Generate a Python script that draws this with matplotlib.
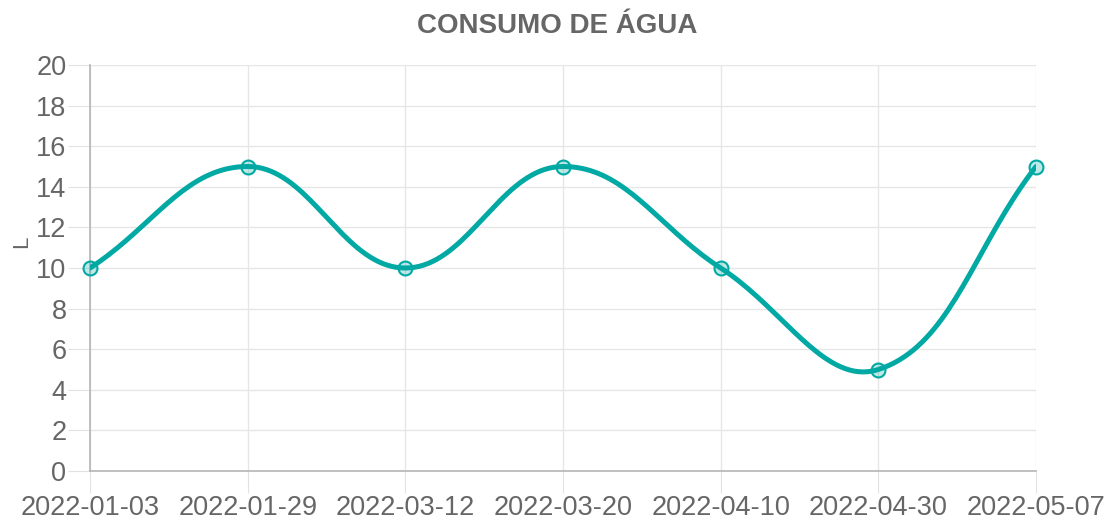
import numpy as np
import matplotlib
matplotlib.use('Agg')
import matplotlib.pyplot as plt

dates=['2022-01-03','2022-01-29','2022-03-12','2022-03-20','2022-04-10','2022-04-30','2022-05-07']
consumo=[10,15,10,15,10,5,15]
yticks=list(range(0,21,2))

color='#00a9a3'
gray='#666666'

plt.rcParams['font.family']=['Liberation Sans','DejaVu Sans']

fig=plt.figure(figsize=(11.15,5.25),dpi=100)
ax=fig.add_axes([90/1115,1-471/525,946/1115,406/525])
ax.set_xlim(0,len(dates)-1)
ax.set_ylim(0,20)

# chart.js style bezier smoothing (tension 0.4), done in pixel space
def spline(xs,ys,t=0.4):
    pts=ax.transData.transform(np.c_[xs,ys])
    n=len(pts)
    cps=[]
    for i in range(n):
        prev=pts[max(i-1,0)]
        cur=pts[i]
        nxt=pts[min(i+1,n-1)]
        d01=np.hypot(*(cur-prev))
        d12=np.hypot(*(nxt-cur))
        tot=d01+d12
        s01=d01/tot if tot else 0
        s12=d12/tot if tot else 0
        cps.append((cur-t*s01*(nxt-prev),cur+t*s12*(nxt-prev)))
    curve=[]
    u=np.linspace(0,1,40)[:,None]
    for i in range(n-1):
        p0=pts[i];p1=cps[i][1];p2=cps[i+1][0];p3=pts[i+1]
        seg=(1-u)**3*p0+3*(1-u)**2*u*p1+3*(1-u)*u**2*p2+u**3*p3
        curve.append(seg)
    curve=np.vstack(curve)
    return ax.transData.inverted().transform(curve)

x=np.arange(len(dates))
c=spline(x,consumo)
ax.plot(c[:,0],c[:,1],color=color,lw=3.6,solid_capstyle='round',zorder=3)
ax.plot(x,consumo,'o',ms=10,mfc=(0.0,0.66,0.64,0.25),mec=color,mew=1.5,clip_on=False,zorder=4)

ax.set_xticks(x)
ax.set_xticklabels(dates)
ax.set_yticks(yticks)
ax.tick_params(axis='both',length=16,color='#e2e2e2',labelsize=19.5,labelcolor=gray,pad=1)
ax.grid(True,color='#e6e6e6',lw=1)
ax.set_axisbelow(True)
for s in ['top','right']:
    ax.spines[s].set_visible(False)
for s in ['left','bottom']:
    ax.spines[s].set_color('#b5b5b5')
    ax.spines[s].set_linewidth(1.2)

fig.text(22/1115,1-242/525,'L',rotation=90,ha='center',va='center',fontsize=16,color=gray)
fig.text(0.5,1-26/525,'CONSUMO DE ÁGUA',ha='center',va='center',fontsize=20,fontweight='bold',color=gray)

plt.savefig('out.png',dpi=100)
